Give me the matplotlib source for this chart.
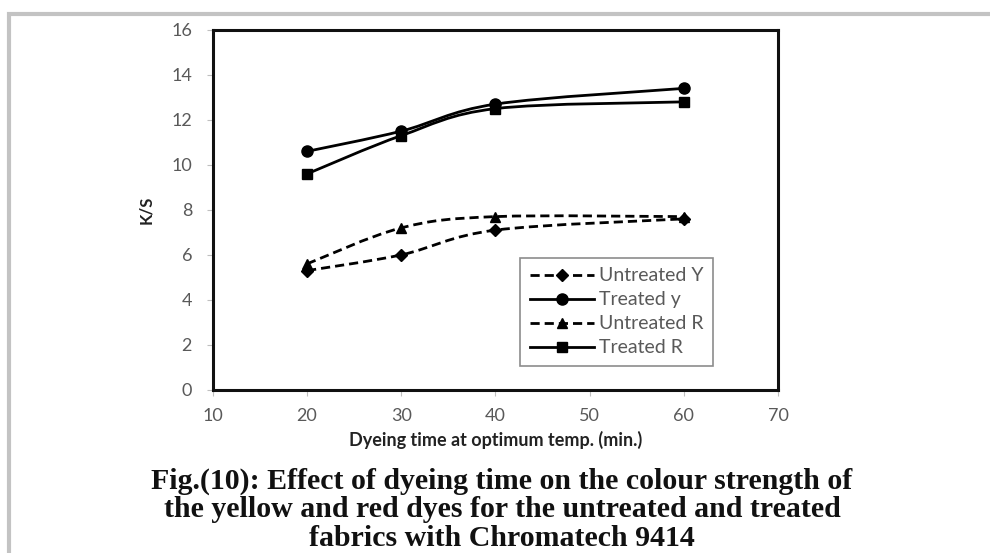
import numpy as np
import matplotlib
matplotlib.use("Agg")
import matplotlib.pyplot as plt
from matplotlib.path import Path
from matplotlib.patches import PathPatch, Rectangle
from matplotlib.lines import Line2D

# data
time_min = [20, 30, 40, 60]
untreated_y = [5.3, 6.0, 7.1, 7.6]
treated_y = [10.6, 11.5, 12.7, 13.4]
untreated_r = [5.6, 7.2, 7.7, 7.7]
treated_r = [9.6, 11.3, 12.5, 12.8]
labels = ["Untreated Y", "Treated y", "Untreated R", "Treated R"]

x_ticks = [10, 20, 30, 40, 50, 60, 70]
y_ticks = [0, 2, 4, 6, 8, 10, 12, 14, 16]

tick_col = "#595959"
ui_font = "Lato"


def smooth_path(xs, ys):
    # Excel-style smoothed line: cubic bezier through each point
    pts = np.column_stack([xs, ys]).astype(float)
    n = len(pts)
    verts = [pts[0]]
    codes = [Path.MOVETO]
    for i in range(n - 1):
        p0 = pts[i - 1] if i > 0 else pts[i]
        p1 = pts[i]
        p2 = pts[i + 1]
        p3 = pts[i + 2] if i + 2 < n else pts[i + 1]
        c1 = p1 + (p2 - p0) / 6.0
        c2 = p2 - (p3 - p1) / 6.0
        verts += [c1, c2, p2]
        codes += [Path.CURVE4] * 3
    return Path(verts, codes)


fig = plt.figure(figsize=(9.9, 5.53), dpi=100)

# grey frame around the whole picture
fig.patches.append(Rectangle((9 / 990, -0.05), 1.2, 1 - 14 / 553 + 0.05,
                             transform=fig.transFigure, fill=False,
                             edgecolor="#c3c3c3", linewidth=3))

ax = fig.add_axes([0.215, 0.295, 0.571, 0.651])

series = [
    (untreated_y, "D", 6, (0, (3.3, 1.8))),
    (treated_y, "o", 8, "-"),
    (untreated_r, "^", 7, (0, (3.3, 1.8))),
    (treated_r, "s", 7, "-"),
]

handles = []
for (vals, mk, ms, ls), lab in zip(series, labels):
    patch = PathPatch(smooth_path(time_min, vals), fill=False, edgecolor="black",
                      linewidth=2, linestyle=ls, capstyle="butt")
    ax.add_patch(patch)
    ax.plot(time_min, vals, linestyle="none", marker=mk, markersize=ms,
            color="black", zorder=3)
    handles.append(Line2D([], [], color="black", linewidth=2, linestyle=ls,
                          marker=mk, markersize=ms, label=lab))

ax.set_xlim(10, 70)
ax.set_ylim(0, 16)
ax.set_xticks(x_ticks)
ax.set_yticks(y_ticks)

for sp in ax.spines.values():
    sp.set_linewidth(2.2)
    sp.set_color("#111111")

ax.tick_params(axis="both", direction="out", length=4, width=0.8,
               color="#bfbfbf", labelcolor=tick_col, labelsize=13)
ax.tick_params(axis="x", pad=9)
ax.tick_params(axis="y", pad=11)
for lab in ax.get_xticklabels() + ax.get_yticklabels():
    lab.set_fontfamily(ui_font)

ax.set_ylabel("K/S", fontsize=12, fontweight="bold", family=ui_font,
              color="#222222", labelpad=12)
ax.set_xlabel("Dyeing time at optimum temp. (min.)", fontsize=13,
              fontweight="bold", family=ui_font, color="#222222", labelpad=5)

leg = ax.legend(handles=handles, loc="upper left",
                bbox_to_anchor=(0.543, 0.367), borderaxespad=0,
                fancybox=False, framealpha=1,
                edgecolor="#8c8c8c", handlelength=3.3, handletextpad=0.25,
                borderpad=0.5, labelspacing=0.36,
                prop={"family": ui_font, "size": 14})
leg.get_frame().set_linewidth(1.2)
for t in leg.get_texts():
    t.set_color(tick_col)

fig.text(0.507, 0.002,
         "Fig.(10): Effect of dyeing time on the colour strength of\n"
         "the yellow and red dyes for the untreated and treated\n"
         "fabrics with Chromatech 9414",
         ha="center", va="bottom", fontsize=21.5, fontweight="bold",
         family="Liberation Serif", linespacing=1.08, color="#111111")

fig.savefig("out.png", dpi=100)
